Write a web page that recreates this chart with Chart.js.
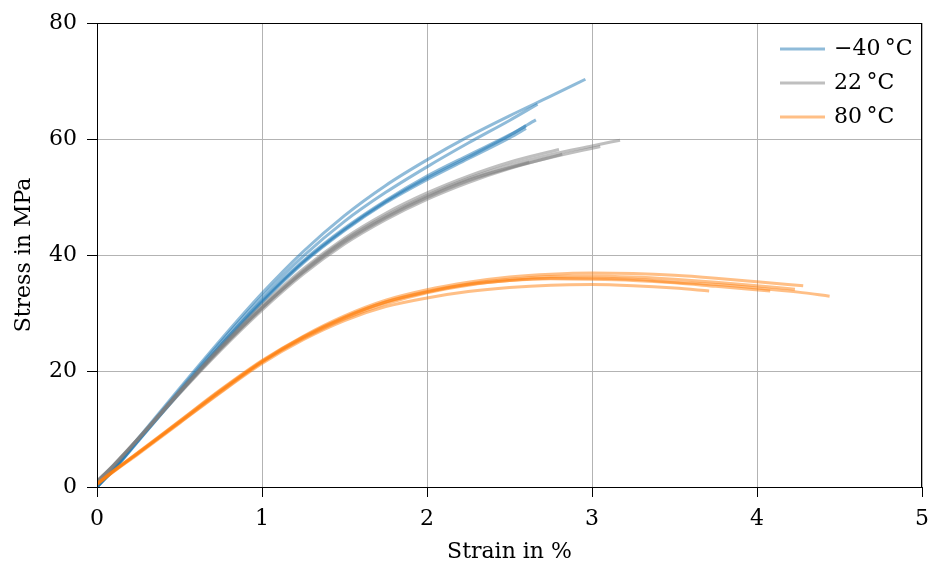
<!DOCTYPE html>
<html>
<head>
<meta charset="utf-8">
<script src="https://cdn.jsdelivr.net/npm/chart.js@4/dist/chart.umd.min.js"></script>
<style>
  body { margin: 0; background: #fff; }
</style>
</head>
<body>
<canvas id="chart" width="930" height="565"></canvas>
<script>
// strain (%) / stress (MPa) pairs, one array per specimen
const cold1 = [[0,0],[0.1,3.2],[0.25,8.4],[0.5,17],[0.75,25.4],[1,33.4],[1.25,40.6],[1.5,46.8],[1.75,52],[2,56.4],[2.25,60.4],[2.5,64],[2.75,67.4],[2.96,70.3]];
const cold2 = [[0,0],[0.1,3.1],[0.25,8.2],[0.5,16.7],[0.75,25],[1,32.8],[1.25,39.8],[1.5,45.8],[1.75,50.8],[2,55.2],[2.25,59.3],[2.5,63.2],[2.67,66]];
const cold3 = [[0,0],[0.1,3],[0.25,8],[0.5,16.4],[0.75,24.5],[1,32.2],[1.25,39],[1.5,44.6],[1.75,49.4],[2,53.6],[2.25,57.2],[2.5,60.7],[2.66,63.3]];
const cold4 = [[0,0],[0.1,3],[0.25,8],[0.5,16.3],[0.75,24.4],[1,32],[1.25,38.8],[1.5,44.4],[1.75,49.2],[2,53.3],[2.25,56.9],[2.5,60.6],[2.6,62.3]];
const cold5 = [[0,0],[0.1,2.9],[0.25,7.9],[0.5,16.2],[0.75,24.2],[1,31.8],[1.25,38.6],[1.5,44.2],[1.75,49],[2,53],[2.25,56.6],[2.5,60.2],[2.6,61.8]];

const room1 = [[0,1],[0.1,3.8],[0.25,8.4],[0.5,16.4],[0.75,24],[1,31],[1.25,37.3],[1.5,42.6],[1.75,46.8],[2,50.3],[2.25,53.2],[2.5,55.5],[2.75,57.3],[3,58.8],[3.17,59.8]];
const room2 = [[0,1],[0.1,3.7],[0.25,8.3],[0.5,16.2],[0.75,23.8],[1,30.8],[1.25,37],[1.5,42.2],[1.75,46.4],[2,49.9],[2.25,52.8],[2.5,55],[2.75,56.8],[3.05,58.7]];
const room3 = [[0,1],[0.1,3.8],[0.25,8.4],[0.5,16.5],[0.75,24.2],[1,31.3],[1.25,37.6],[1.5,42.9],[1.75,47.2],[2,50.7],[2.25,53.6],[2.5,56],[2.8,58.2]];
const room4 = [[0,0.8],[0.1,3.6],[0.25,8.2],[0.5,16.1],[0.75,23.6],[1,30.5],[1.25,36.7],[1.5,41.9],[1.75,46.1],[2,49.6],[2.25,52.5],[2.5,54.9],[2.82,57.4]];
const room5 = [[0,0.9],[0.1,3.7],[0.25,8.3],[0.5,16.3],[0.75,23.9],[1,30.9],[1.25,37.1],[1.5,42.4],[1.75,46.6],[2,50.1],[2.25,53],[2.62,56]];

const hot1 = [[0,0.6],[0.1,2.8],[0.25,6],[0.5,11.4],[0.75,16.8],[1,21.8],[1.25,26],[1.5,29.5],[1.75,32.2],[2,34],[2.25,35.3],[2.5,36.2],[2.75,36.7],[3,36.9],[3.25,36.8],[3.5,36.5],[3.75,36],[4,35.4],[4.28,34.7]];
const hot2 = [[0,0.5],[0.1,2.7],[0.25,5.9],[0.5,11.2],[0.75,16.6],[1,21.6],[1.25,25.8],[1.5,29.2],[1.75,31.9],[2,33.7],[2.25,35],[2.5,35.8],[2.75,36.3],[3,36.4],[3.25,36.2],[3.5,35.8],[3.75,35.3],[4,34.7],[4.23,34.1]];
const hot3 = [[0,0.5],[0.1,2.7],[0.25,5.8],[0.5,11.1],[0.75,16.4],[1,21.5],[1.25,25.6],[1.5,29],[1.75,31.6],[2,33.5],[2.25,34.8],[2.5,35.6],[2.75,36],[3,36],[3.25,35.8],[3.5,35.3],[3.75,34.9],[4,34.3],[4.25,33.6],[4.44,32.9]];
const hot4 = [[0,0.4],[0.1,2.6],[0.25,5.7],[0.5,11],[0.75,16.3],[1,21.3],[1.25,25.4],[1.5,28.7],[1.75,31.1],[2,32.6],[2.25,33.7],[2.5,34.4],[2.75,34.8],[3,34.9],[3.25,34.7],[3.5,34.3],[3.71,33.8]];
const hot5 = [[0,0.5],[0.1,2.8],[0.25,5.9],[0.5,11.3],[0.75,16.7],[1,21.7],[1.25,25.9],[1.5,29.3],[1.75,31.9],[2,33.6],[2.25,34.9],[2.5,35.6],[2.75,35.9],[3,35.8],[3.25,35.6],[3.5,35.2],[3.75,34.6],[4.08,33.8]];

const legendLabels = ['\u221240\u2009°C', '22\u2009°C', '80\u2009°C'];
const groupRuns = [[cold1, cold2, cold3, cold4, cold5], [room1, room2, room3, room4, room5], [hot1, hot2, hot3, hot4, hot5]];
const groupColors = ['rgba(31,119,180,0.5)', 'rgba(127,127,127,0.5)', 'rgba(255,127,14,0.5)'];
const xTicks = [0, 1, 2, 3, 4, 5];
const yTicks = [0, 20, 40, 60, 80];

const FONT = 'DejaVu Serif';

const datasets = [];
groupRuns.forEach((runs, g) => {
  runs.forEach((run, i) => {
    datasets.push({
      label: legendLabels[g],
      data: run.map(p => ({ x: p[0], y: p[1] })),
      borderColor: groupColors[g],
      borderWidth: 3,
      pointRadius: 0,
      fill: false,
      cubicInterpolationMode: 'monotone',
      order: 3 - g
    });
  });
});

const frameAndLegend = {
  id: 'frameAndLegend',
  afterDatasetsDraw(chart) {
    const ctx = chart.ctx;
    const a = chart.chartArea;
    ctx.save();
    ctx.strokeStyle = '#000';
    ctx.lineWidth = 1;
    ctx.strokeRect(a.left + 0.5, a.top + 0.5, a.right - a.left - 1, a.bottom - a.top);
    // legend, upper right inside the axes
    ctx.font = '22px "' + FONT + '"';
    ctx.textBaseline = 'middle';
    ctx.textAlign = 'left';
    legendLabels.forEach((lab, g) => {
      const y = a.top + 26 + g * 34;
      ctx.strokeStyle = groupColors[g];
      ctx.lineWidth = 3;
      ctx.beginPath();
      ctx.moveTo(a.right - 142, y);
      ctx.lineTo(a.right - 97, y);
      ctx.stroke();
      ctx.fillStyle = '#000';
      ctx.fillText(lab, a.right - 88, y);
    });
    ctx.restore();
  }
};

new Chart(document.getElementById('chart'), {
  type: 'line',
  data: { datasets: datasets },
  options: {
    responsive: false,
    animation: false,
    layout: { padding: { left: 0, right: 8, top: 23, bottom: 0 } },
    plugins: { legend: { display: false }, tooltip: { enabled: false } },
    scales: {
      x: {
        type: 'linear',
        min: 0,
        max: 5,
        afterBuildTicks: s => { s.ticks = xTicks.map(v => ({ value: v })); },
        afterFit: s => { s.height = 78; s.paddingLeft = 0; s.paddingRight = 0; },
        ticks: { color: '#000', font: { family: FONT, size: 22 }, padding: 9, maxRotation: 0 },
        grid: { color: '#b3b3b3', tickColor: '#000', tickLength: 10 },
        border: { display: true, color: '#000' },
        title: { display: true, text: 'Strain in %', color: '#000', font: { family: FONT, size: 22 }, padding: { top: 0, bottom: 0 } }
      },
      y: {
        min: 0,
        max: 80,
        afterBuildTicks: s => { s.ticks = yTicks.map(v => ({ value: v })); },
        afterFit: s => { s.width = 97; s.paddingTop = 0; s.paddingBottom = 0; },
        ticks: { color: '#000', font: { family: FONT, size: 22 }, padding: 10 },
        grid: { color: '#b3b3b3', tickColor: '#000', tickLength: 10 },
        border: { display: true, color: '#000' },
        title: { display: true, text: 'Stress in MPa', color: '#000', font: { family: FONT, size: 22 }, padding: { top: 11, bottom: 0 } }
      }
    }
  },
  plugins: [frameAndLegend]
});
</script>
</body>
</html>
